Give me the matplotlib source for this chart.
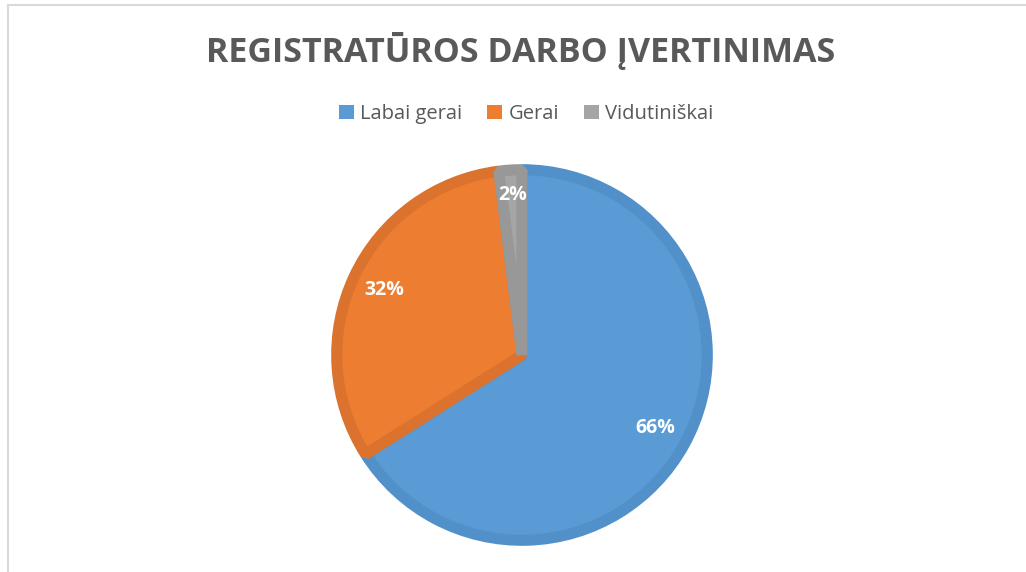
import matplotlib
matplotlib.use('Agg')
import matplotlib.pyplot as plt
from matplotlib.lines import Line2D
from matplotlib.patches import Patch

labels = ['Labai gerai', 'Gerai', 'Vidutiniškai']
values = [66, 32, 2]
colors = ['#5B9BD5', '#ED7D31', '#A5A5A5']
edges = ['#5290CA', '#DB722D', '#989898']

plt.rcParams['font.family'] = ['Open Sans', 'DejaVu Sans']

W, H = 1026, 572
fig = plt.figure(figsize=(W / 100, H / 100), dpi=100)

# chart frame (only top and left visible in the crop)
fig.add_artist(Line2D([8 / W, 1], [1 - 5 / H, 1 - 5 / H], color='#D9D9D9', lw=1.5))
fig.add_artist(Line2D([8 / W, 8 / W], [0, 1 - 5 / H], color='#D9D9D9', lw=1.5))

fig.text(521 / W, 1 - 51 / H, 'REGISTRATŪROS DARBO ĮVERTINIMAS', ha='center', va='center',
         fontsize=24.5, fontweight='bold', color='#595959')

cx, cy, r = 522, 355, 191
ax = fig.add_axes([(cx - r) / W, (H - cy - r) / H, 2 * r / W, 2 * r / H])
wedges, _, autotexts = ax.pie(values, colors=colors, startangle=90, counterclock=False,
                              radius=0.97, autopct='%1.0f%%', pctdistance=0.82,
                              wedgeprops=dict(linewidth=8, joinstyle='bevel'),
                              textprops=dict(color='white', fontsize=14, fontweight='bold'))
for w, e in zip(wedges, edges):
    w.set_edgecolor(e)
autotexts[2].set_position((-0.05, 0.84))
ax.set_xlim(-1, 1)
ax.set_ylim(-1, 1)

handles = [Patch(facecolor=c, edgecolor='none') for c in colors]
fig.legend(handles, labels, loc='center', bbox_to_anchor=(526 / W, 1 - 114 / H), ncol=3,
           frameon=False, fontsize=14.5, labelcolor='#595959', handlelength=0.75,
           handleheight=0.75, handletextpad=0.3, columnspacing=1.25)

fig.savefig('out.png', dpi=100)
